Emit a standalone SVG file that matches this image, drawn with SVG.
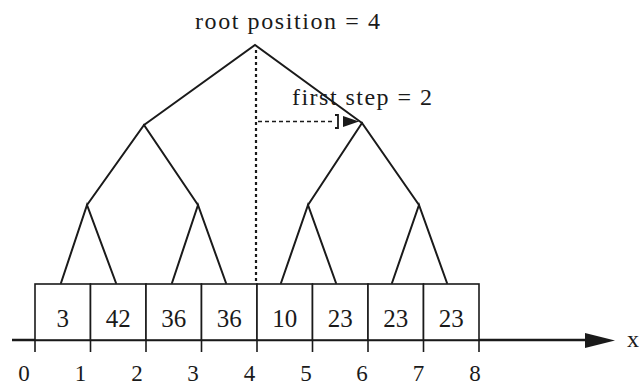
<svg xmlns="http://www.w3.org/2000/svg" width="640" height="385" viewBox="0 0 640 385">
<style>
.ln{stroke:#1a1a1a;stroke-width:2;fill:none;stroke-linecap:round}
.box{fill:#fff;stroke:#1a1a1a;stroke-width:1.6}
.num{font-family:"Liberation Serif",serif;font-size:25px;fill:#1a1a1a;text-anchor:middle}
.lab{font-family:"Liberation Serif",serif;font-size:23px;fill:#1a1a1a;text-anchor:middle}
.ttl{font-family:"Liberation Serif",serif;font-size:24px;fill:#1a1a1a}
.tick{stroke:#1a1a1a;stroke-width:1.6}
</style>
<rect width="640" height="385" fill="#fff"/>
<g id="axis">
<line x1="12" y1="340" x2="600" y2="340" stroke="#1a1a1a" stroke-width="2.4"/>
<polygon points="585,333 615,340.5 585,348" fill="#1a1a1a"/>
<g class="tick">
<line x1="35" y1="340" x2="35" y2="352"/><line x1="90.5" y1="340" x2="90.5" y2="352"/>
<line x1="146" y1="340" x2="146" y2="352"/><line x1="201.5" y1="340" x2="201.5" y2="352"/>
<line x1="257" y1="340" x2="257" y2="352"/><line x1="312.5" y1="340" x2="312.5" y2="352"/>
<line x1="368" y1="340" x2="368" y2="352"/><line x1="423.5" y1="340" x2="423.5" y2="352"/>
<line x1="479" y1="340" x2="479" y2="352"/>
</g>
<text class="lab" x="24" y="381">0</text><text class="lab" x="80.5" y="381">1</text>
<text class="lab" x="137" y="381">2</text><text class="lab" x="193" y="381">3</text>
<text class="lab" x="249.5" y="381">4</text><text class="lab" x="306" y="381">5</text>
<text class="lab" x="362" y="381">6</text><text class="lab" x="418.5" y="381">7</text>
<text class="lab" x="475" y="381">8</text>
<text class="ttl" x="627" y="347">x</text>
</g>
<g id="connectors">
<polyline class="ln" points="144,125 255,45 362,123"/>
<polyline class="ln" points="87,205 144,125 198,205"/>
<polyline class="ln" points="308,205 362,123 419,205"/>
<polyline class="ln" points="61,283 87,205 116,283"/>
<polyline class="ln" points="172,283 198,205 226,283"/>
<polyline class="ln" points="281,283 308,205 336,283"/>
<polyline class="ln" points="392,283 419,205 447,283"/>
<line x1="256" y1="50" x2="256" y2="284" stroke="#1a1a1a" stroke-width="2.2" stroke-dasharray="3,3"/>
<line x1="258" y1="121.5" x2="334" y2="121.5" stroke="#1a1a1a" stroke-width="1.6" stroke-dasharray="4,3"/>
<path d="M335,115 h3 v13 h-3" fill="none" stroke="#1a1a1a" stroke-width="1.8"/>
<polygon points="343,116 359,121.5 343,127" fill="#1a1a1a"/>
</g>
<g id="b0"><rect class="box" x="35" y="284" width="55.5" height="56"/><text class="num" x="62.8" y="327">3</text></g>
<g id="b1"><rect class="box" x="90.5" y="284" width="55.5" height="56"/><text class="num" x="118.3" y="327">42</text></g>
<g id="b2"><rect class="box" x="146" y="284" width="55.5" height="56"/><text class="num" x="173.8" y="327">36</text></g>
<g id="b3"><rect class="box" x="201.5" y="284" width="55.5" height="56"/><text class="num" x="229.3" y="327">36</text></g>
<g id="b4"><rect class="box" x="257" y="284" width="55.5" height="56"/><text class="num" x="284.8" y="327">10</text></g>
<g id="b5"><rect class="box" x="312.5" y="284" width="55.5" height="56"/><text class="num" x="340.3" y="327">23</text></g>
<g id="b6"><rect class="box" x="368" y="284" width="55.5" height="56"/><text class="num" x="395.8" y="327">23</text></g>
<g id="b7"><rect class="box" x="423.5" y="284" width="55.5" height="56"/><text class="num" x="451.3" y="327">23</text></g>
<g id="root-label"><text class="ttl" x="195" y="29" textLength="185" lengthAdjust="spacing">root position = 4</text></g>
<g id="step-label"><text class="ttl" x="292" y="105" textLength="140" lengthAdjust="spacing">first step = 2</text></g>
</svg>
